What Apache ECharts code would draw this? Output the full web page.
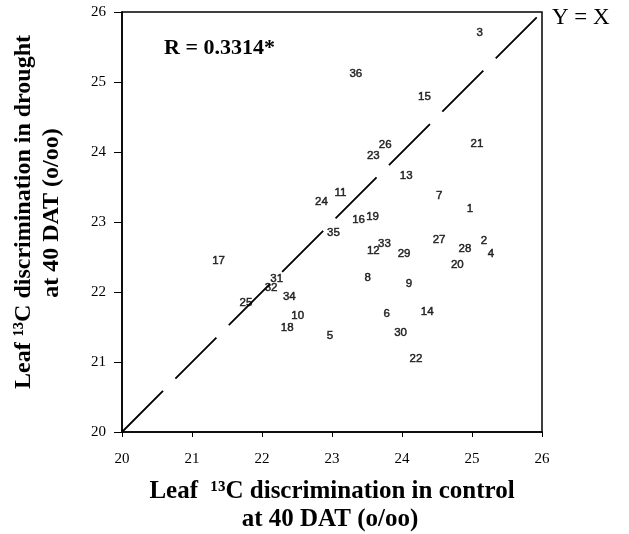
<!DOCTYPE html>
<html><head><meta charset="utf-8">
<script src="https://cdn.jsdelivr.net/npm/echarts@6/dist/echarts.min.js"></script>
<style>html,body{margin:0;padding:0;background:#fff}#c{width:629px;height:534px}</style>
</head><body><div id="c"></div>
<script>
// Genotype numbers
const genotypeIds = [1,2,3,4,5,6,7,8,9,10,11,12,13,14,15,16,17,18,19,20,21,22,23,24,25,26,27,28,29,30,31,32,33,34,35,36];
// Leaf 13C discrimination in control at 40 DAT (x)
const controlVals = [24.97,25.17,25.11,25.27,22.97,23.78,24.53,23.51,24.10,22.51,23.12,23.59,24.06,24.36,24.32,23.38,21.38,22.36,23.58,24.79,25.07,24.20,23.59,22.85,21.77,23.76,24.53,24.90,24.03,23.98,22.21,22.13,23.75,22.39,23.02,23.34];
// Leaf 13C discrimination in drought at 40 DAT (y)
const droughtVals = [23.19,22.73,25.70,22.54,21.37,21.69,23.37,22.20,22.12,21.66,23.42,22.59,23.66,21.71,24.79,23.03,22.45,21.49,23.08,22.39,24.11,21.04,23.95,23.29,21.84,24.10,22.74,22.61,22.54,21.42,22.19,22.06,22.69,21.93,22.85,25.11];
// Axis ticks
const axisMin = 20, axisMax = 26, axisStep = 1;
// Y = X reference line endpoints
const refLineX = [20, 26];
const refLineY = [20, 26];

const points = genotypeIds.map((id, i) => [controlVals[i], droughtVals[i], id]);
const refLine = refLineX.map((x, i) => [x, refLineY[i]]);

const serif = '"Liberation Serif","Times New Roman",serif';
const chart = echarts.init(document.getElementById('c'), null, {renderer: 'canvas'});
const axisCommon = {
  type: 'value', min: axisMin, max: axisMax, interval: axisStep,
  axisLine: {show: true, onZero: false, lineStyle: {color: '#000', width: 1.5}},
  splitLine: {show: false},
};
chart.setOption({
  animation: false,
  backgroundColor: '#fff',
  grid: {left: 122, top: 12, width: 420, height: 420, show: true, borderColor: '#000', borderWidth: 1.5, backgroundColor: 'transparent'},
  xAxis: Object.assign({}, axisCommon, {
    axisTick: {show: true, inside: false, length: 5, lineStyle: {color: '#000', width: 1}},
    axisLabel: {color: '#000', fontFamily: serif, fontSize: 15, margin: 20}
  }),
  yAxis: Object.assign({}, axisCommon, {
    axisTick: {show: true, inside: false, length: 8, lineStyle: {color: '#000', width: 1}},
    axisLabel: {color: '#000', fontFamily: serif, fontSize: 15, margin: 16}
  }),
  series: [
    {
      type: 'line', data: refLine, symbol: 'none', silent: true,
      lineStyle: {color: '#000', width: 1.8, type: [58, 17.5]}, z: 1
    },
    {
      type: 'scatter', data: points, symbolSize: 0, z: 3,
      label: {show: true, position: 'inside', formatter: p => String(p.value[2]),
        color: '#000', fontFamily: '"Liberation Sans",Arial,sans-serif', fontSize: 11.5,
        textBorderColor: '#000', textBorderWidth: 0.5}
    }
  ],
  graphic: [
    {type: 'text', x: 164, y: 48, style: {text: 'R = 0.3314*', font: 'bold 22px ' + serif, fill: '#000', align: 'left', verticalAlign: 'middle'}},
    {type: 'text', x: 552, y: 18, style: {text: 'Y = X', font: '23px ' + serif, fill: '#000', align: 'left', verticalAlign: 'middle'}},
    {type: 'text', x: 332, y: 492, style: {text: 'Leaf  \u00B9\u00B3C discrimination in control', font: 'bold 25px ' + serif, fill: '#000', align: 'center', verticalAlign: 'middle'}},
    {type: 'text', x: 330, y: 520, style: {text: 'at 40 DAT (o/oo)', font: 'bold 25px ' + serif, fill: '#000', align: 'center', verticalAlign: 'middle'}},
    {type: 'text', x: 24, y: 212, rotation: Math.PI / 2, style: {text: 'Leaf \u00B9\u00B3C discrimination in drought', font: 'bold 24px ' + serif, fill: '#000', align: 'center', verticalAlign: 'middle'}},
    {type: 'text', x: 52, y: 213, rotation: Math.PI / 2, style: {text: 'at 40 DAT (o/oo)', font: 'bold 24px ' + serif, fill: '#000', align: 'center', verticalAlign: 'middle'}}
  ]
});
</script>
</body></html>
